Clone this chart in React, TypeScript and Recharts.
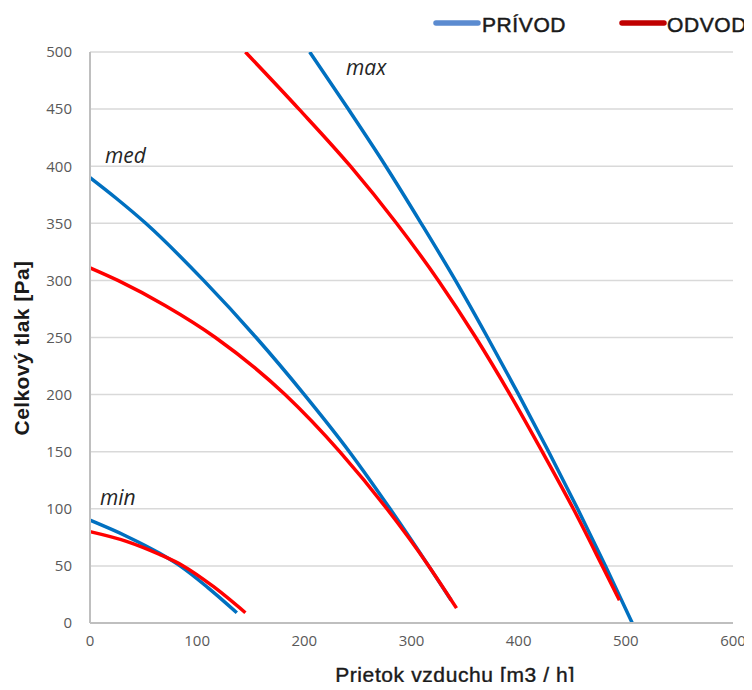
import React from "react";
import {
  LineChart,
  Line,
  XAxis,
  YAxis,
  CartesianGrid,
} from "recharts";

// airflow [m3/h] and total pressure [Pa]
const maxPrivodFlow = [205, 241, 276, 309, 341, 371, 400, 428, 455, 481, 506];
const maxPrivodPress = [500, 450, 400, 350, 300, 250, 200, 150, 100, 50, 0];
const maxOdvodFlow = [145, 195, 243, 286, 325, 360, 392, 422, 451, 478, 494];
const maxOdvodPress = [500, 450, 400, 350, 300, 250, 200, 150, 100, 50, 20];

const medPrivodFlow = [0, 25, 52, 106, 155, 200, 242, 280, 316, 337];
const medPrivodPress = [390, 371.5, 350, 300, 250, 200, 150, 100, 50, 20];
const medOdvodFlow = [0, 26, 70, 117, 182, 233, 277, 316, 342];
const medOdvodPress = [311, 300, 278, 250, 200, 150, 100, 50, 13];

const minPrivodFlow = [0, 34, 65, 84, 110, 137];
const minPrivodPress = [90, 76, 61, 50, 31, 9];
const minOdvodFlow = [0, 34, 65, 87, 115, 145];
const minOdvodPress = [80, 71.5, 60, 50, 32, 9];

const xTicks = [0, 100, 200, 300, 400, 500, 600];
const yTicks = [0, 50, 100, 150, 200, 250, 300, 350, 400, 450, 500];

const BLUE = "#0070C0";
const RED = "#FF0000";

const zip = (xs: number[], ys: number[]) => xs.map((x, i) => ({ q: x, p: ys[i] }));

const curves = [
  { id: "maxP", data: zip(maxPrivodFlow, maxPrivodPress), color: BLUE },
  { id: "medP", data: zip(medPrivodFlow, medPrivodPress), color: BLUE },
  { id: "minP", data: zip(minPrivodFlow, minPrivodPress), color: BLUE },
  { id: "maxO", data: zip(maxOdvodFlow, maxOdvodPress), color: RED },
  { id: "medO", data: zip(medOdvodFlow, medOdvodPress), color: RED },
  { id: "minO", data: zip(minOdvodFlow, minOdvodPress), color: RED },
];

const tickStyle = { fill: "#595959", fontSize: 15, fontFamily: "Open Sans" };
const curveLabel = {
  fontFamily: "Open Sans",
  fontStyle: "italic",
  fontSize: 21,
  fill: "#262626",
};
const arial = "Liberation Sans";

export default function App() {
  return (
    <div style={{ position: "relative", width: 752, height: 690, margin: -8, background: "#fff" }}>
      <LineChart
        width={752}
        height={690}
        margin={{ top: 52, right: 19, bottom: 37, left: 0 }}
      >
        <CartesianGrid vertical={false} stroke="#d9d9d9" strokeWidth={1.5} />
        <XAxis
          type="number"
          dataKey="q"
          domain={[0, 600]}
          ticks={xTicks}
          height={30}
          tickLine={false}
          tickSize={0}
          tickMargin={12}
          axisLine={{ stroke: "#bfbfbf", strokeWidth: 2 }}
          tick={tickStyle}
          allowDuplicatedCategory={false}
        />
        <YAxis
          type="number"
          dataKey="p"
          domain={[0, 500]}
          ticks={yTicks}
          width={90}
          tickLine={false}
          tickSize={0}
          tickMargin={18}
          axisLine={{ stroke: "#bfbfbf", strokeWidth: 2 }}
          tick={tickStyle}
          allowDataOverflow
        />
        {curves.map((c) => (
          <Line
            key={c.id}
            data={c.data}
            dataKey="p"
            type="monotone"
            stroke={c.color}
            strokeWidth={3.5}
            dot={false}
            activeDot={false}
            isAnimationActive={false}
          />
        ))}
      </LineChart>
      <svg
        width={752}
        height={690}
        style={{ position: "absolute", left: 0, top: 0, pointerEvents: "none" }}
      >
        <text x={346} y={75} style={curveLabel}>max</text>
        <text x={105} y={163} style={curveLabel}>med</text>
        <text x={100} y={505} style={curveLabel}>min</text>

        <line x1={436} y1={23} x2={478} y2={23} stroke="#5B8BD0" strokeWidth={5.5} strokeLinecap="round" />
        <text x={482} y={32} fontFamily={arial} fontSize={21} fill="#1a1a1a" stroke="#1a1a1a" strokeWidth={0.5} letterSpacing={0.6}>PRÍVOD</text>
        <line x1={622} y1={23} x2={664} y2={23} stroke="#C00000" strokeWidth={5.5} strokeLinecap="round" />
        <text x={667} y={32} fontFamily={arial} fontSize={21} fill="#1a1a1a" stroke="#1a1a1a" strokeWidth={0.5} letterSpacing={0.6}>ODVOD</text>

        <text x={455} y={682} textAnchor="middle" fontFamily={arial} fontSize={21} letterSpacing={0.6} fill="#1a1a1a" stroke="#1a1a1a" strokeWidth={0.4}>
          Prietok vzduchu [m3 / h]
        </text>
        <text
          transform="translate(29 348) rotate(-90)"
          textAnchor="middle"
          fontFamily={arial}
          fontSize={21}
          fontWeight="bold"
          letterSpacing={0.4}
          fill="#1a1a1a"
        >
          Celkový tlak [Pa]
        </text>
      </svg>
    </div>
  );
}
